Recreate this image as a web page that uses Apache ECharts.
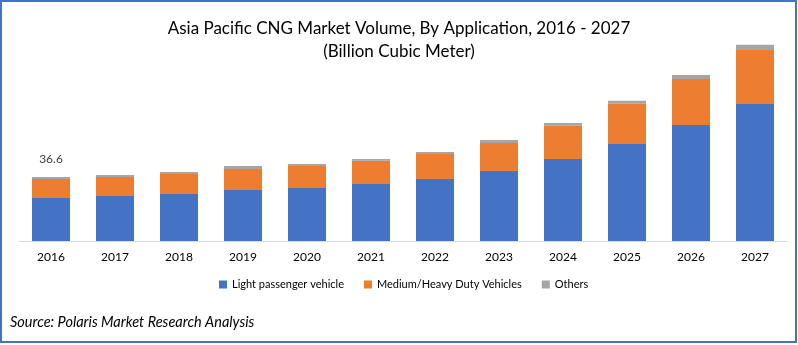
<!DOCTYPE html>
<html><head><meta charset="utf-8">
<script src="https://cdn.jsdelivr.net/npm/echarts@6/dist/echarts.min.js"></script>
<style>html,body{margin:0;padding:0;background:#fff}#c{width:798px;height:345px}</style>
</head><body><div id="c"></div>
<script>
const years = ['2016','2017','2018','2019','2020','2021','2022','2023','2024','2025','2026','2027'];
const lightPassenger = [24.6,25.7,26.9,29.2,30.3,32.6,35.4,40.0,46.9,55.5,66.3,78.3];
const mediumHeavy = [10.9,10.9,11.4,12.0,12.6,13.2,14.3,16.0,18.9,22.9,26.3,30.9];
const others = [1.1,1.1,1.1,1.7,1.1,1.1,1.1,1.7,1.7,1.7,2.3,2.9];
const labelledTotal = ['36.6'];

const FONT = 'Lato';
const chart = echarts.init(document.getElementById('c'));
chart.setOption({
  animation:false,
  textStyle:{fontFamily:FONT},
  title:{
    text:'Asia Pacific CNG Market Volume, By Application, 2016 - 2027\n(Billion Cubic Meter)',
    left:'center', top:12,
    textStyle:{fontFamily:FONT,fontSize:17,fontWeight:'normal',color:'#000',lineHeight:23}
  },
  legend:{
    bottom:50, left:214, itemWidth:8, itemHeight:8, itemGap:20,
    icon:'rect',
    textStyle:{fontFamily:FONT,fontSize:11,color:'#000'},
    data:['Light passenger vehicle','Medium/Heavy Duty Vehicles','Others']
  },
  grid:{left:19,right:11,top:31,bottom:104},
  xAxis:{type:'category',data:years,
    axisLine:{lineStyle:{color:'#d9d9d9',width:1}},axisTick:{show:false},
    axisLabel:{color:'#000',fontSize:12,margin:10,fontFamily:FONT}},
  yAxis:{type:'value',min:0,max:120,show:false,splitLine:{show:false}},
  graphic:[
    {type:'rect',shape:{x:1,y:1,width:795,height:341},style:{fill:'none',stroke:'#4472C4',lineWidth:2},silent:true},
    {type:'text',left:10,top:315,style:{text:'Source: Polaris Market Research Analysis',font:'italic 14.5px '+FONT,fill:'#000'}}
  ],
  series:[
    {name:'Light passenger vehicle',type:'bar',stack:'t',data:lightPassenger,barWidth:38,itemStyle:{color:'#4472C4'}},
    {name:'Medium/Heavy Duty Vehicles',type:'bar',stack:'t',data:mediumHeavy,itemStyle:{color:'#ED7D31'}},
    {name:'Others',type:'bar',stack:'t',data:others.map((v,i)=> i<labelledTotal.length ? {value:v,label:{show:true,position:'top',distance:12,formatter:labelledTotal[i],color:'#404040',fontSize:12,fontFamily:FONT}} : v),itemStyle:{color:'#A5A5A5'}}
  ]
});
</script></body></html>
